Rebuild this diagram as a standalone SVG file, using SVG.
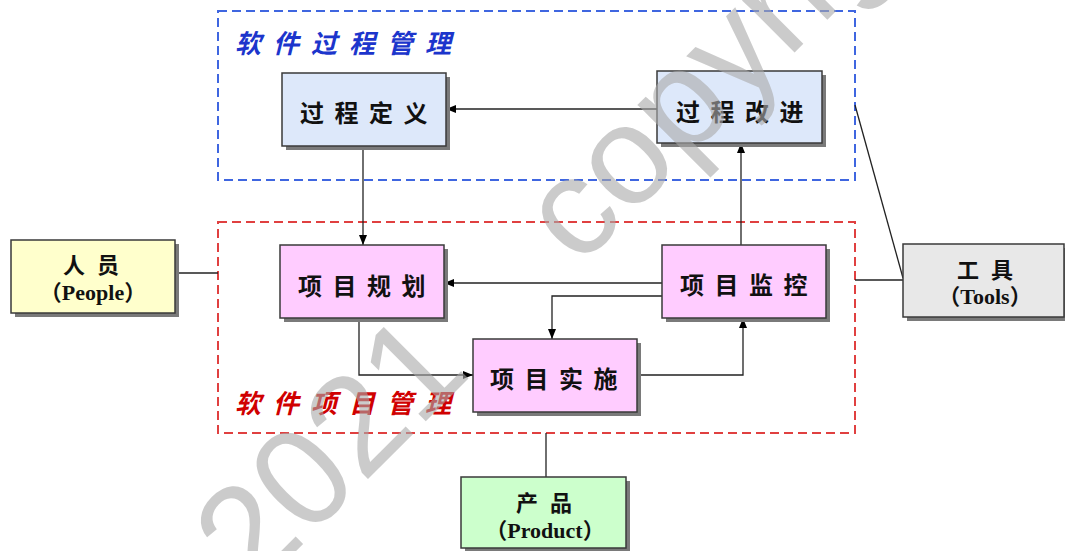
<svg xmlns="http://www.w3.org/2000/svg" width="1065" height="551" viewBox="0 0 1065 551">
<style>
.shadow{fill:#7a7a7a}
.box{stroke:#3a3a3a;stroke-width:1.5}
.blue{fill:#dde8fa}
.pink{fill:#ffccff}
.yellow{fill:#ffffcc}
.gray{fill:#e8e8e8}
.green{fill:#ccffcc}
.lbl{font-family:"Noto Sans CJK SC",sans-serif;font-size:24px;font-weight:700;fill:#111;letter-spacing:10.5px;text-anchor:middle}
.lbl2{font-family:"Noto Sans CJK SC",sans-serif;font-size:22px;font-weight:700;fill:#111;letter-spacing:12px;text-anchor:middle}
.en{font-family:"Liberation Serif","Noto Sans CJK SC",serif;font-size:22px;font-weight:700;fill:#111;text-anchor:middle}
.title{font-family:"Noto Sans CJK SC",sans-serif;font-size:26px;font-style:italic;font-weight:700;letter-spacing:12px}
.conn{fill:none;stroke:#222;stroke-width:1.3}
.frame{fill:none;stroke-width:2;stroke-dasharray:9 5}
</style>
<defs>
<marker id="arr" markerWidth="10" markerHeight="8" refX="10" refY="4" orient="auto" markerUnits="userSpaceOnUse">
<path d="M0,0 L10,4 L0,8 z" fill="#000"/>
</marker>
</defs>
<rect width="1065" height="551" fill="#fff"/>

<g id="frame-process">
<rect class="frame" x="218" y="11" width="637" height="169" stroke="#3f66e0"/>
<text class="title" x="235" y="53" fill="#1c35cc">软件过程管理</text>
</g>
<g id="frame-project">
<rect class="frame" x="218" y="222" width="637" height="211" stroke="#e04040"/>
<text class="title" x="235" y="413" fill="#d00000">软件项目管理</text>
</g>

<g id="connectors">
<path class="conn" d="M657,109 H446" marker-end="url(#arr)"/>
<path class="conn" d="M363,146 V245" marker-end="url(#arr)"/>
<path class="conn" d="M741,245 V143" marker-end="url(#arr)"/>
<path class="conn" d="M662,283 H444" marker-end="url(#arr)"/>
<path class="conn" d="M662,296 H552 V339" marker-end="url(#arr)"/>
<path class="conn" d="M359,318 V375 H473" marker-end="url(#arr)"/>
<path class="conn" d="M637,375 H743 V318" marker-end="url(#arr)"/>
<path class="conn" d="M175,273 H218"/>
<path class="conn" d="M855,280 H903"/>
<path class="conn" d="M855,105 L903,278"/>
<path class="conn" d="M546,433 V477"/>
</g>

<g id="node-process-def">
<rect class="shadow" x="286" y="77" width="164" height="73"/>
<rect class="box blue" x="282" y="73" width="164" height="73"/>
<text class="lbl" x="369" y="122">过程定义</text>
</g>
<g id="node-process-imp">
<rect class="shadow" x="661" y="75" width="165" height="72"/>
<rect class="box blue" x="657" y="71" width="165" height="72"/>
<text class="lbl" x="745" y="121">过程改进</text>
</g>
<g id="node-plan">
<rect class="shadow" x="284" y="249" width="164" height="73"/>
<rect class="box pink" x="280" y="245" width="164" height="73"/>
<text class="lbl" x="367" y="295">项目规划</text>
</g>
<g id="node-exec">
<rect class="shadow" x="477" y="343" width="164" height="73"/>
<rect class="box pink" x="473" y="339" width="164" height="73"/>
<text class="lbl" x="559" y="388">项目实施</text>
</g>
<g id="node-monitor">
<rect class="shadow" x="666" y="249" width="164" height="73"/>
<rect class="box pink" x="662" y="245" width="164" height="73"/>
<text class="lbl" x="749" y="294">项目监控</text>
</g>
<g id="node-people">
<rect class="shadow" x="15" y="244" width="164" height="73"/>
<rect class="box yellow" x="11" y="240" width="164" height="73"/>
<text class="lbl2" x="97" y="273">人员</text>
<text class="en" x="93" y="300">（People）</text>
</g>
<g id="node-tools">
<rect class="shadow" x="907" y="248" width="164" height="73"/>
<rect class="box gray" x="903" y="244" width="161" height="73"/>
<text class="lbl2" x="991" y="278">工具</text>
<text class="en" x="985" y="304">（Tools）</text>
</g>
<g id="node-product">
<rect class="shadow" x="465" y="481" width="165" height="71"/>
<rect class="box green" x="461" y="477" width="165" height="71"/>
<text class="lbl2" x="550" y="511">产品</text>
<text class="en" x="545" y="538">（Product）</text>
</g>

<g id="watermark" opacity="0.6">
<text transform="translate(253,594) rotate(-45)" font-family="Liberation Sans, sans-serif" font-size="140" fill="#aaa">2021<tspan dx="149">copyright</tspan></text>
</g>
</svg>
